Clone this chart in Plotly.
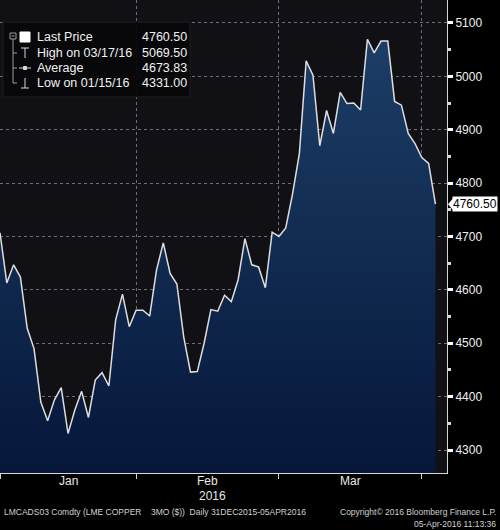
import plotly.graph_objects as go
import pandas as pd

# LME copper 3M (LMCADS03), daily
HOLIDAYS = ["2016-01-01", "2016-03-25", "2016-03-28", "2016-04-04"]
DATES = [d.strftime("%Y-%m-%d") for d in pd.bdate_range("2015-12-31", "2016-04-05")
         if d.strftime("%Y-%m-%d") not in HOLIDAYS]
PRICES = [
    4707, 4613, 4647, 4624, 4528, 4490, 4390, 4355, 4394, 4417,
    4331, 4375, 4410, 4361, 4431, 4445, 4420, 4544, 4592, 4531,
    4562, 4562, 4551, 4637, 4688, 4631, 4611, 4512, 4446, 4447,
    4500, 4563, 4560, 4590, 4578, 4619, 4696, 4647, 4643, 4604,
    4708, 4700, 4716, 4780, 4855, 5029, 5002, 4870, 4936, 4893,
    4970, 4949, 4950, 4937, 5069.5, 5044, 5066, 5066, 4953, 4946,
    4893, 4874, 4848, 4837, 4760.5,
]
AVG_PRICE = 4673.83
MONTH_LABELS = ["Jan", "Feb", "Mar"]
YEAR_LABEL = "2016"
Y_TICKS = [4300, 4400, 4500, 4600, 4700, 4800, 4900, 5000, 5100]

assert len(DATES) == len(PRICES)

# plot area in pixels (500x530 page)
PW, PH = 447, 473
Y_RANGE = [4257, 5143]


def px(x, y):
    """pixel position (from plot top-left) -> paper coords"""
    return x / PW, 1 - y / PH


periods = pd.to_datetime(pd.Series(DATES)).dt.to_period("M")
# last trading day of each month (index 0 = Dec 31 closes 2015)
month_ends = [i for i in range(len(DATES) - 1) if periods[i] != periods[i + 1]]
bounds = month_ends  # [0, Jan end, Feb end, Mar end]

fig = go.Figure()
fig.add_trace(go.Scatter(
    x=DATES, y=PRICES, mode="lines",
    line=dict(color="#dedede", width=1.5),
    fill="tozeroy",
    fillgradient=dict(type="vertical", start=Y_RANGE[0], stop=Y_RANGE[1],
                      colorscale=[[0, "#06173a"], [1, "#1e416b"]]),
    showlegend=False, hoverinfo="x+y",
))

anns = []
shapes = []

# month labels centred between month boundaries, year below
for k, lab in enumerate(MONTH_LABELS):
    anns.append(dict(x=(bounds[k] + bounds[k + 1]) / 2, xref="x", y=px(0, 481)[1], yref="paper",
                     text=lab, showarrow=False, yanchor="middle",
                     font=dict(size=12, color="#e8e8e8")))
anns.append(dict(x=px(212, 0)[0], y=px(0, 496)[1], xref="paper", yref="paper", text=YEAR_LABEL,
                 yanchor="middle", showarrow=False, font=dict(size=12, color="#e8e8e8")))

# footer
anns.append(dict(x=px(2, 0)[0], y=px(0, 512)[1], xref="paper", yref="paper", xanchor="left",
                 yanchor="middle",
                 text="LMCADS03 Comdty (LME COPPER    3MO ($))  Daily 31DEC2015-05APR2016",
                 showarrow=False, font=dict(size=8.5, color="#d0d0d0")))
anns.append(dict(x=px(498, 0)[0], y=px(0, 512)[1], xref="paper", yref="paper", xanchor="right",
                 yanchor="middle", text="Copyright\u00a9 2016 Bloomberg Finance L.P.",
                 showarrow=False, font=dict(size=8.5, color="#d0d0d0")))
anns.append(dict(x=px(498, 0)[0], y=px(0, 524)[1], xref="paper", yref="paper", xanchor="right",
                 yanchor="middle", text="05-Apr-2016 11:13:36",
                 showarrow=False, font=dict(size=8.5, color="#d0d0d0")))

# last price tag on the right axis
last = PRICES[-1]
anns.append(dict(x=1, xref="paper", xanchor="left", xshift=5, y=last, yref="y",
                 text=f"{last:.2f}", showarrow=False, bgcolor="#ffffff", borderpad=0,
                 font=dict(size=12, color="#000000")))
shapes.append(dict(type="path", xref="paper", yref="y", xsizemode="pixel", ysizemode="pixel",
                   xanchor=1, yanchor=last, path="M 1 0 L 7 7 L 7 -7 Z",
                   fillcolor="#ffffff", line=dict(width=0)))

# legend box (Bloomberg style)
hi = max(PRICES)
lo = min(PRICES)
hi_date = pd.Timestamp(DATES[PRICES.index(hi)]).strftime("%m/%d/%y")
lo_date = pd.Timestamp(DATES[PRICES.index(lo)]).strftime("%m/%d/%y")
rows = [
    ("Last Price", last),
    (f"High on {hi_date}", hi),
    ("Average", AVG_PRICE),
    (f"Low on {lo_date}", lo),
]
x0, y0 = px(3, 22)
x1, y1 = px(190, 97)
shapes.append(dict(type="rect", xref="paper", yref="paper", x0=x0, y0=y1, x1=x1, y1=y0,
                   fillcolor="rgba(8,8,10,0.92)", line=dict(color="#1e1e22", width=1), layer="above"))
row_y = [37, 53, 68, 83]
for (label, val), ry in zip(rows, row_y):
    lx, ly = px(35, ry)
    anns.append(dict(x=lx, y=ly, xref="paper", yref="paper", xanchor="left", yanchor="middle",
                     text=label, showarrow=False, font=dict(size=12.5, color="#f0f0f0")))
    vx, _ = px(140, ry)
    anns.append(dict(x=vx, y=ly, xref="paper", yref="paper", xanchor="left", yanchor="middle",
                     text=f"{val:.2f}", showarrow=False, font=dict(size=12.5, color="#f0f0f0")))


def seg(xa, ya, xb, yb, color="#9a9a9a", w=1):
    a, b = px(xa, ya), px(xb, yb)
    shapes.append(dict(type="line", xref="paper", yref="paper", x0=a[0], y0=a[1], x1=b[0], y1=b[1],
                       line=dict(color=color, width=w), layer="above"))


def box(xa, ya, xb, yb, fill, line="#9a9a9a"):
    a, b = px(xa, ya), px(xb, yb)
    shapes.append(dict(type="rect", xref="paper", yref="paper", x0=a[0], y0=b[1], x1=b[0], y1=a[1],
                       fillcolor=fill, line=dict(color=line, width=1), layer="above"))


# tree connector and icons
box(10, 33, 16, 39, "rgba(0,0,0,0)")
seg(11.5, 36, 14.5, 36)
seg(13, 39, 13, 83)
for ry in row_y[1:]:
    seg(13, ry, 17, ry)
box(20, 32, 30, 42, "#ffffff", "#ffffff")
seg(21, 48, 29, 48, "#d8d8d8")
seg(25, 48, 25, 58, "#d8d8d8")
seg(19, 68, 31, 68, "#d8d8d8")
box(23.5, 66.5, 26.5, 69.5, "#d8d8d8", "#d8d8d8")
seg(25, 78, 25, 88, "#d8d8d8")
seg(21, 88, 29, 88, "#d8d8d8")

fig.update_layout(
    width=500, height=530,
    margin=dict(l=0, r=500 - PW, t=0, b=530 - PH, pad=0, autoexpand=False),
    paper_bgcolor="#000000", plot_bgcolor="#111115",
    font=dict(family="Liberation Sans, Arial, sans-serif", color="#e8e8e8"),
    xaxis=dict(
        type="category", range=[0, 65.7], automargin=False,
        tickvals=[DATES[i] for i in month_ends], ticktext=["" for _ in month_ends],
        ticks="outside", ticklen=5, tickcolor="#d8d8d8",
        showline=True, linecolor="#d8d8d8", linewidth=1,
        showgrid=True, gridcolor="#6e6e78", griddash="dot", gridwidth=1,
        zeroline=False,
    ),
    yaxis=dict(
        side="right", range=Y_RANGE, tickvals=Y_TICKS, automargin=False,
        ticks="outside", ticklen=5, tickwidth=3, tickcolor="#ffffff",
        minor=dict(dtick=50, ticks="outside", ticklen=3, tickcolor="#d8d8d8", showgrid=False),
        tickfont=dict(size=12, color="#f0f0f0"),
        showline=True, linecolor="#d8d8d8", linewidth=1,
        showgrid=True, gridcolor="#6e6e78", griddash="dot", gridwidth=1,
        zeroline=False,
    ),
    annotations=anns, shapes=shapes,
)

# the page's default 8px body margin would offset the whole chart
fig.write_html("out.html", config=dict(displayModeBar=False),
               post_script="document.body.style.margin='0';document.body.style.background='#000';")
